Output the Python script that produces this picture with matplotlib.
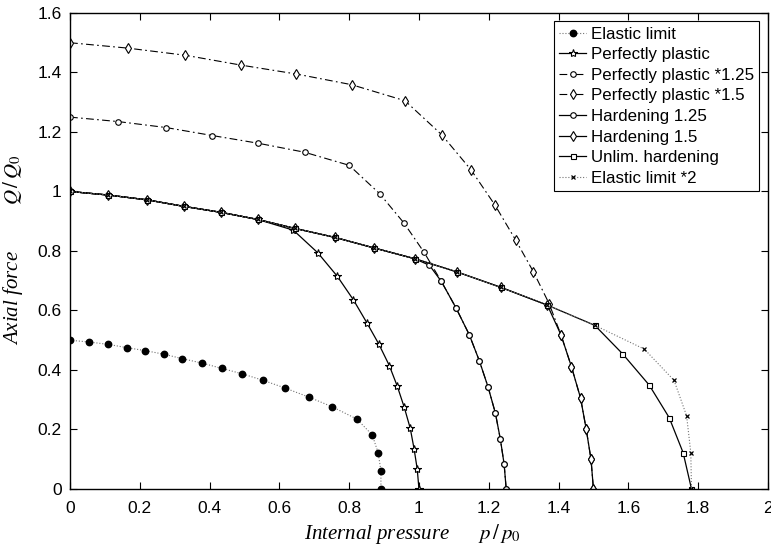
import numpy as np
import matplotlib
matplotlib.use('Agg')
from matplotlib import pyplot as plt

plt.rcParams['mathtext.fontset'] = 'stix'

# values
# elastic limit
el_x = [0, 0.055, 0.11, 0.163, 0.216, 0.269, 0.322, 0.379, 0.436, 0.494,
        0.554, 0.617, 0.684, 0.752, 0.822, 0.866, 0.883, 0.891, 0.891]
el_y = [0.5, 0.494, 0.486, 0.475, 0.465, 0.453, 0.438, 0.423, 0.405, 0.387,
        0.365, 0.339, 0.309, 0.276, 0.235, 0.182, 0.122, 0.061, 0]

# perfectly plastic
pp_x = [0, 0.11, 0.22, 0.326, 0.432, 0.538, 0.64, 0.71, 0.766, 0.812,
        0.851, 0.885, 0.915, 0.938, 0.958, 0.975, 0.986, 0.995, 1.0]
pp_y = [1.0, 0.988, 0.972, 0.95, 0.93, 0.906, 0.87, 0.794, 0.715, 0.636,
        0.558, 0.487, 0.415, 0.345, 0.274, 0.204, 0.135, 0.067, 0]

# perfectly plastic *1.25
pp125_x = [0, 0.138, 0.275, 0.408, 0.54, 0.672, 0.8, 0.887, 0.957, 1.015,
           1.064, 1.106, 1.144, 1.173, 1.198, 1.219, 1.233, 1.244, 1.25]
pp125_y = [1.25, 1.235, 1.215, 1.188, 1.162, 1.132, 1.088, 0.993, 0.894, 0.795,
           0.698, 0.609, 0.519, 0.431, 0.343, 0.255, 0.169, 0.084, 0]

# perfectly plastic *1.5
pp15_x = [0, 0.165, 0.33, 0.489, 0.648, 0.807, 0.96, 1.065, 1.149, 1.218,
          1.277, 1.328, 1.373, 1.407, 1.437, 1.463, 1.479, 1.493, 1.5]
pp15_y = [1.5, 1.482, 1.458, 1.425, 1.395, 1.359, 1.305, 1.191, 1.073, 0.954,
          0.837, 0.73, 0.623, 0.518, 0.411, 0.306, 0.203, 0.1, 0]

# hardening 1.25
h125_x = [0, 0.11, 0.22, 0.326, 0.432, 0.538, 0.644, 0.758, 0.872, 0.988,
          1.03, 1.064, 1.106, 1.144, 1.173, 1.198, 1.219, 1.233, 1.244, 1.25]
h125_y = [1.0, 0.988, 0.972, 0.95, 0.93, 0.906, 0.876, 0.846, 0.81, 0.774,
          0.752, 0.698, 0.609, 0.519, 0.431, 0.343, 0.255, 0.169, 0.084, 0]

# hardening 1.5
h15_x = [0, 0.11, 0.22, 0.326, 0.432, 0.538, 0.644, 0.758, 0.872, 0.988,
         1.108, 1.234, 1.368, 1.407, 1.437, 1.463, 1.479, 1.493, 1.5]
h15_y = [1.0, 0.988, 0.972, 0.95, 0.93, 0.906, 0.876, 0.846, 0.81, 0.774,
         0.73, 0.678, 0.618, 0.518, 0.411, 0.306, 0.203, 0.1, 0]

# unlimited hardening
uh_x = [0, 0.11, 0.22, 0.326, 0.432, 0.538, 0.644, 0.758, 0.872, 0.988,
        1.108, 1.234, 1.368, 1.504, 1.583, 1.66, 1.717, 1.757, 1.781]
uh_y = [1.0, 0.988, 0.972, 0.95, 0.93, 0.906, 0.876, 0.846, 0.81, 0.774,
        0.73, 0.678, 0.618, 0.55, 0.455, 0.349, 0.24, 0.122, 0]

# elastic limit *2
el2_x = [0, 0.11, 0.22, 0.326, 0.432, 0.538, 0.644, 0.758, 0.872, 0.988,
         1.108, 1.234, 1.368, 1.504, 1.646, 1.731, 1.767, 1.779, 1.781]
el2_y = [1.0, 0.988, 0.972, 0.95, 0.93, 0.906, 0.876, 0.846, 0.81, 0.774,
         0.73, 0.678, 0.618, 0.55, 0.47, 0.365, 0.246, 0.122, 0]

fig = plt.figure(figsize=(7.71, 5.48), dpi=100)
ax = fig.add_axes([0.0908, 0.1077, 0.9052, 0.8686])

lw = 0.9
dashdot = (0, (7, 3, 1.5, 3))
ax.plot(el_x, el_y, ':', color='0.45', lw=0.8, marker='o', ms=4.6,
        mfc='k', mec='k', label='Elastic limit')
ax.plot(pp_x, pp_y, '-', color='k', lw=lw, marker='*', ms=6,
        mfc='w', mec='k', mew=0.8, label='Perfectly plastic')
ax.plot(pp125_x, pp125_y, linestyle=dashdot, color='k', lw=0.8, marker='o', ms=4,
        mfc='w', mec='k', mew=0.8, label='Perfectly plastic *1.25')
ax.plot(pp15_x, pp15_y, linestyle=dashdot, color='k', lw=0.8, marker='d', ms=4.8,
        mfc='w', mec='k', mew=0.8, label='Perfectly plastic *1.5')
ax.plot(h125_x, h125_y, '-', color='k', lw=lw, marker='o', ms=4,
        mfc='w', mec='k', mew=0.8, label='Hardening 1.25')
ax.plot(h15_x, h15_y, '-', color='k', lw=lw, marker='d', ms=4.8,
        mfc='w', mec='k', mew=0.8, label='Hardening 1.5')
ax.plot(uh_x, uh_y, '-', color='k', lw=lw, marker='s', ms=3.6,
        mfc='w', mec='k', mew=0.8, label='Unlim. hardening')
ax.plot(el2_x, el2_y, ':', color='0.45', lw=0.8, marker='x', ms=3.5,
        mec='k', mew=0.9, label='Elastic limit *2')

ax.set_xlim(0, 2)
ax.set_ylim(0, 1.6)
xt = [0, 0.2, 0.4, 0.6, 0.8, 1, 1.2, 1.4, 1.6, 1.8, 2]
yt = [0, 0.2, 0.4, 0.6, 0.8, 1, 1.2, 1.4, 1.6]
ax.set_xticks(xt)
ax.set_xticklabels(['%g' % v for v in xt])
ax.set_yticks(yt)
ax.set_yticklabels(['%g' % v for v in yt])
ax.tick_params(direction='in', top=True, right=True, length=5, width=0.8,
               labelsize=12.5)
ax.tick_params(axis='x', pad=9)
ax.tick_params(axis='y', pad=6)
for lab in ax.get_xticklabels() + ax.get_yticklabels():
    lab.set_family('Liberation Sans')
for s in ax.spines.values():
    s.set_linewidth(1.0)

ax.set_xlabel('Internal pressure      $p\\,/\\,p_0$', family='Liberation Serif',
              style='italic', fontsize=15)
ax.set_ylabel('Axial force         $Q\\,/\\,Q_0$', family='Liberation Serif',
              style='italic', fontsize=15)
ax.xaxis.set_label_coords(0.49, -0.07)
ax.yaxis.set_label_coords(-0.064, 0.503)

leg = ax.legend(loc='upper right', prop={'family': 'Liberation Sans', 'size': 12.2},
                frameon=True, fancybox=False, edgecolor='k', framealpha=1,
                labelspacing=0.33, handlelength=1.6, handletextpad=0.3,
                borderpad=0.3, borderaxespad=0.5)
leg.get_frame().set_linewidth(0.8)

fig.savefig('out.png', dpi=100)
